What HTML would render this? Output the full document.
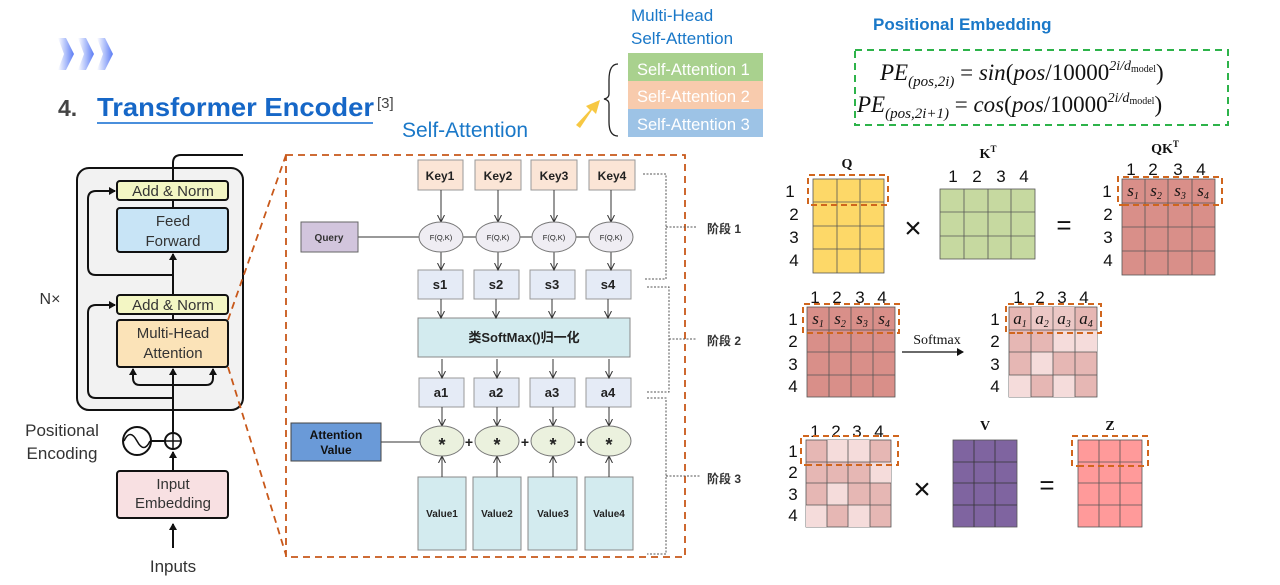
<!DOCTYPE html>
<html><head><meta charset="utf-8"><style>
body{margin:0;background:#fff;}
svg{display:block;font-family:"Liberation Sans","Noto Sans CJK SC",sans-serif;}
</style></head><body>
<svg width="1280" height="585" viewBox="0 0 1280 585" xmlns="http://www.w3.org/2000/svg">
<defs>
<marker id="ah" markerWidth="8" markerHeight="8" refX="6" refY="4" orient="auto" markerUnits="userSpaceOnUse"><path d="M0,0 L7,4 L0,8 z" fill="#111"/></marker>
<marker id="ao" markerWidth="8" markerHeight="8" refX="7" refY="4" orient="auto" markerUnits="userSpaceOnUse"><path d="M0,0.5 L7,4 L0,7.5" fill="none" stroke="#333" stroke-width="1"/></marker>
<linearGradient id="chev" x1="0" x2="1"><stop offset="0" stop-color="#fff"/><stop offset="1" stop-color="#5b7cf5"/></linearGradient>
</defs>

<!-- chevrons -->
<path d="M58,38 L66,38 L74,54 L66,70 L58,70 L64,54z" fill="url(#chev)"/>
<path d="M78,38 L86,38 L94,54 L86,70 L78,70 L84,54z" fill="url(#chev)"/>
<path d="M97,38 L105,38 L113,54 L105,70 L97,70 L103,54z" fill="url(#chev)"/>
<text x="58" y="116" font-size="23" font-weight="bold" fill="#444">4.</text>
<text x="97" y="116" font-size="26" font-weight="bold" fill="#1667c7" textLength="277" lengthAdjust="spacingAndGlyphs">Transformer Encoder</text>
<line x1="97" y1="123" x2="373" y2="123" stroke="#4a8fdc" stroke-width="2"/>
<text x="377" y="108" font-size="15" fill="#444">[3]</text>
<text x="402" y="137" font-size="21" fill="#1a78c8">Self-Attention</text>
<path d="M576,125 L590,110 L586,106 L600,100 L596,114 L592,110 L580,128z" fill="#f7c843"/>
<path d="M618,64 Q609,64 609,80 L609,94 Q609,98 604,99 Q609,100 609,104 L609,122 Q609,136 618,136" fill="none" stroke="#222" stroke-width="1.3"/>
<text x="631" y="21" font-size="17" fill="#1a78c8">Multi-Head</text>
<text x="631" y="44" font-size="17" fill="#1a78c8">Self-Attention</text>
<rect x="628" y="53" width="135" height="28" fill="#a9d18e"/>
<rect x="628" y="81" width="135" height="28" fill="#f8cbad"/>
<rect x="628" y="109" width="135" height="28" fill="#9dc3e6"/>
<g font-size="16.5" fill="#fff"><text x="637" y="75">Self-Attention 1</text><text x="637" y="102">Self-Attention 2</text><text x="637" y="130">Self-Attention 3</text></g>

<text x="873" y="30" font-size="17" font-weight="bold" fill="#1a78c8">Positional Embedding</text>
<rect x="855" y="50" width="373" height="75" fill="none" stroke="#2db34a" stroke-width="2" stroke-dasharray="7,5"/>
<g font-family="Liberation Serif,serif" font-size="23" fill="#111">
<text x="880" y="80"><tspan font-style="italic">PE</tspan><tspan font-size="15" dy="6" font-style="italic">(pos,2i)</tspan><tspan dy="-6"> = </tspan><tspan font-style="italic">sin</tspan>(<tspan font-style="italic">pos</tspan>/10000<tspan font-size="14" dy="-10" font-style="italic">2i/d</tspan><tspan font-size="10" dy="2">model</tspan><tspan dy="8">)</tspan></text>
<text x="857" y="112"><tspan font-style="italic">PE</tspan><tspan font-size="15" dy="6" font-style="italic">(pos,2i+1)</tspan><tspan dy="-6"> = </tspan><tspan font-style="italic">cos</tspan>(<tspan font-style="italic">pos</tspan>/10000<tspan font-size="14" dy="-10" font-style="italic">2i/d</tspan><tspan font-size="10" dy="2">model</tspan><tspan dy="8">)</tspan></text>
</g>

<!-- Left encoder -->
<rect x="77" y="168" width="166" height="242" rx="12" fill="#f2f2f2" stroke="#111" stroke-width="2"/>
<path d="M173,181 L173,163 Q173,155 181,155 L243,155" fill="none" stroke="#111" stroke-width="2"/>
<g stroke="#111" stroke-width="2" fill="none">
<line x1="173" y1="548" x2="173" y2="524" marker-end="url(#ah)"/>
<line x1="173" y1="471" x2="173" y2="452" marker-end="url(#ah)"/>
<line x1="173" y1="433" x2="173" y2="369" marker-end="url(#ah)"/>
<line x1="173" y1="314" x2="173" y2="320"/>
<line x1="173" y1="295" x2="173" y2="254" marker-end="url(#ah)"/>
<line x1="173" y1="200" x2="173" y2="208"/>
<path d="M173,398 L96,398 Q88,398 88,390 L88,313 Q88,305 96,305 L115,305" marker-end="url(#ah)"/>
<path d="M173,275 L96,275 Q88,275 88,267 L88,199 Q88,191 96,191 L115,191" marker-end="url(#ah)"/>
<path d="M173,385 L140,385 Q133,385 133,378 L133,369" marker-end="url(#ah)"/>
<path d="M173,385 L206,385 Q213,385 213,378 L213,369" marker-end="url(#ah)"/>
<line x1="151" y1="441" x2="165" y2="441"/>
</g>
<rect x="117" y="181" width="111" height="19" rx="3" fill="#f3f6c4" stroke="#111" stroke-width="2"/>
<rect x="117" y="208" width="111" height="44" rx="3" fill="#c8e4f6" stroke="#111" stroke-width="2"/>
<rect x="117" y="295" width="111" height="19" rx="3" fill="#f3f6c4" stroke="#111" stroke-width="2"/>
<rect x="117" y="320" width="111" height="47" rx="3" fill="#fbe3b8" stroke="#111" stroke-width="2"/>
<rect x="117" y="471" width="111" height="47" rx="3" fill="#f8e0e2" stroke="#111" stroke-width="2"/>
<g font-size="15" fill="#333" text-anchor="middle">
<text x="173" y="196">Add &amp; Norm</text>
<text x="173" y="226">Feed</text><text x="173" y="246">Forward</text>
<text x="173" y="310">Add &amp; Norm</text>
<text x="173" y="338">Multi-Head</text><text x="173" y="358">Attention</text>
<text x="173" y="489">Input</text><text x="173" y="508">Embedding</text>
<text x="173" y="572" font-size="17">Inputs</text>
<text x="62" y="436" font-size="17">Positional</text>
<text x="62" y="459" font-size="17">Encoding</text>
<text x="50" y="304" font-size="16">N×</text>
</g>
<circle cx="173" cy="441" r="8" fill="#fff" stroke="#111" stroke-width="2"/>
<path d="M165,441 H181 M173,433 V449" stroke="#111" stroke-width="1.5"/>
<circle cx="137" cy="441" r="14" fill="#fff" stroke="#111" stroke-width="2"/>
<path d="M124,441 Q130,428 137,441 Q144,454 150,441" fill="none" stroke="#111" stroke-width="1.5"/>
<g stroke="#c8581a" stroke-width="1.8" stroke-dasharray="7,5" fill="none">
<line x1="228" y1="320" x2="286" y2="155"/>
<line x1="228" y1="367" x2="286" y2="555"/>
<rect x="286" y="155" width="399" height="402"/>
</g>

<!-- center -->
<g stroke="#333" stroke-width="1" fill="none">
<line x1="358" y1="237" x2="611" y2="237"/>
<line x1="381" y1="442" x2="420" y2="442" marker-start="url(#ao)"/>
</g>
<rect x="301" y="222" width="57" height="30" fill="#d2c5dd" stroke="#666"/>
<text x="329" y="241" font-size="10" font-weight="bold" text-anchor="middle" fill="#333">Query</text>
<rect x="291" y="423" width="90" height="38" fill="#6a9ad8" stroke="#444"/>
<text x="336" y="439" font-size="12" font-weight="bold" text-anchor="middle" fill="#111">Attention</text>
<text x="336" y="454" font-size="12" font-weight="bold" text-anchor="middle" fill="#111">Value</text>
<rect x="418" y="318" width="212" height="39" fill="#d3ebef" stroke="#888"/>
<text x="524" y="342" font-size="13" font-weight="bold" text-anchor="middle" fill="#222">类SoftMax()归一化</text>
<g font-weight="bold" text-anchor="middle" fill="#222">
<rect x="418" y="160" width="45" height="30" fill="#fbe5d6" stroke="#999"/><text x="440" y="180" font-size="12">Key1</text>
<rect x="475" y="160" width="46" height="30" fill="#fbe5d6" stroke="#999"/><text x="498" y="180" font-size="12">Key2</text>
<rect x="531" y="160" width="46" height="30" fill="#fbe5d6" stroke="#999"/><text x="554" y="180" font-size="12">Key3</text>
<rect x="589" y="160" width="46" height="30" fill="#fbe5d6" stroke="#999"/><text x="612" y="180" font-size="12">Key4</text>
<rect x="418" y="270" width="45" height="29" fill="#e5ebf6" stroke="#999"/><text x="440" y="289" font-size="13">s1</text>
<rect x="474" y="270" width="45" height="29" fill="#e5ebf6" stroke="#999"/><text x="496" y="289" font-size="13">s2</text>
<rect x="530" y="270" width="45" height="29" fill="#e5ebf6" stroke="#999"/><text x="552" y="289" font-size="13">s3</text>
<rect x="586" y="270" width="45" height="29" fill="#e5ebf6" stroke="#999"/><text x="608" y="289" font-size="13">s4</text>
<rect x="419" y="378" width="45" height="29" fill="#e5ebf6" stroke="#999"/><text x="441" y="397" font-size="13">a1</text>
<rect x="474" y="378" width="45" height="29" fill="#e5ebf6" stroke="#999"/><text x="496" y="397" font-size="13">a2</text>
<rect x="530" y="378" width="45" height="29" fill="#e5ebf6" stroke="#999"/><text x="552" y="397" font-size="13">a3</text>
<rect x="586" y="378" width="45" height="29" fill="#e5ebf6" stroke="#999"/><text x="608" y="397" font-size="13">a4</text>
<rect x="418" y="477" width="48" height="73" fill="#d3ebef" stroke="#888"/><text x="442" y="517" font-size="10">Value1</text>
<rect x="473" y="477" width="48" height="73" fill="#d3ebef" stroke="#888"/><text x="497" y="517" font-size="10">Value2</text>
<rect x="528" y="477" width="49" height="73" fill="#d3ebef" stroke="#888"/><text x="553" y="517" font-size="10">Value3</text>
<rect x="585" y="477" width="48" height="73" fill="#d3ebef" stroke="#888"/><text x="609" y="517" font-size="10">Value4</text>
</g>
<g stroke="#333" stroke-width="1" fill="none" marker-end="url(#ao)">
<line x1="441" y1="190" x2="441" y2="222"/><line x1="498" y1="190" x2="498" y2="222"/><line x1="554" y1="190" x2="554" y2="222"/><line x1="611" y1="190" x2="611" y2="222"/>
<line x1="441" y1="252" x2="441" y2="270"/><line x1="498" y1="252" x2="498" y2="270"/><line x1="554" y1="252" x2="554" y2="270"/><line x1="611" y1="252" x2="611" y2="270"/>
<line x1="441" y1="299" x2="441" y2="318"/><line x1="496" y1="299" x2="496" y2="318"/><line x1="552" y1="299" x2="552" y2="318"/><line x1="608" y1="299" x2="608" y2="318"/>
<line x1="442" y1="359" x2="442" y2="378"/><line x1="497" y1="359" x2="497" y2="378"/><line x1="553" y1="359" x2="553" y2="378"/><line x1="609" y1="359" x2="609" y2="378"/>
<line x1="442" y1="407" x2="442" y2="426"/><line x1="497" y1="407" x2="497" y2="426"/><line x1="553" y1="407" x2="553" y2="426"/><line x1="609" y1="407" x2="609" y2="426"/>
<line x1="442" y1="477" x2="442" y2="456"/><line x1="497" y1="477" x2="497" y2="456"/><line x1="553" y1="477" x2="553" y2="456"/><line x1="609" y1="477" x2="609" y2="456"/>
</g>
<g fill="#efedf3" stroke="#777">
<ellipse cx="441" cy="237" rx="22" ry="15"/><ellipse cx="498" cy="237" rx="22" ry="15"/><ellipse cx="554" cy="237" rx="22" ry="15"/><ellipse cx="611" cy="237" rx="22" ry="15"/>
</g>
<g font-size="7.5" text-anchor="middle" fill="#222"><text x="441" y="240">F(Q,K)</text><text x="498" y="240">F(Q,K)</text><text x="554" y="240">F(Q,K)</text><text x="611" y="240">F(Q,K)</text></g>
<g fill="#ebf1de" stroke="#777">
<ellipse cx="442" cy="441" rx="22" ry="15"/><ellipse cx="497" cy="441" rx="22" ry="15"/><ellipse cx="553" cy="441" rx="22" ry="15"/><ellipse cx="609" cy="441" rx="22" ry="15"/>
</g>
<g font-size="18" font-weight="bold" text-anchor="middle" fill="#222"><text x="442" y="451">*</text><text x="497" y="451">*</text><text x="553" y="451">*</text><text x="609" y="451">*</text>
<text x="469" y="447" font-size="14">+</text><text x="525" y="447" font-size="14">+</text><text x="581" y="447" font-size="14">+</text></g>
<g stroke="#555" stroke-width="1" stroke-dasharray="2,1.5" fill="none">
<path d="M643,174 H666 V279 H645"/><path d="M666,227 H697"/>
<path d="M647,287 H669 V392 H647"/><path d="M669,339 H697"/>
<path d="M647,398 H666 V554 H647"/><path d="M666,476 H700"/>
</g>
<g font-size="12" font-weight="bold" fill="#333"><text x="707" y="233">阶段 1</text><text x="707" y="345">阶段 2</text><text x="707" y="483">阶段 3</text></g>

<!-- right matrices -->
<g font-size="17" fill="#111" text-anchor="middle">
<text x="790" y="197">1</text><text x="794" y="220">2</text><text x="794" y="243">3</text><text x="794" y="266">4</text>
<text x="1107" y="197">1</text><text x="1108" y="220">2</text><text x="1108" y="243">3</text><text x="1108" y="266">4</text>
<text x="953" y="182">1</text><text x="977" y="182">2</text><text x="1001" y="182">3</text><text x="1024" y="182">4</text>
<text x="1131" y="175">1</text><text x="1153" y="175">2</text><text x="1178" y="175">3</text><text x="1201" y="175">4</text>
<text x="793" y="325">1</text><text x="793" y="347">2</text><text x="793" y="370">3</text><text x="793" y="392">4</text>
<text x="815" y="303">1</text><text x="837" y="303">2</text><text x="860" y="303">3</text><text x="882" y="303">4</text>
<text x="995" y="325">1</text><text x="995" y="347">2</text><text x="995" y="370">3</text><text x="995" y="392">4</text>
<text x="1018" y="303">1</text><text x="1040" y="303">2</text><text x="1062" y="303">3</text><text x="1084" y="303">4</text>
<text x="793" y="457">1</text><text x="793" y="478">2</text><text x="793" y="500">3</text><text x="793" y="521">4</text>
<text x="815" y="437">1</text><text x="836" y="437">2</text><text x="857" y="437">3</text><text x="879" y="437">4</text>
<text x="913" y="238" font-size="30">×</text><text x="1064" y="234" font-size="26">=</text>
<text x="922" y="499" font-size="30">×</text><text x="1047" y="494" font-size="26">=</text>
</g>
<g font-family="Liberation Serif,serif" font-weight="bold" font-size="14" text-anchor="middle" fill="#111">
<text x="847" y="168">Q</text><text x="988" y="158">K<tspan font-size="9" dy="-6">T</tspan></text>
<text x="1165" y="153">QK<tspan font-size="9" dy="-6">T</tspan></text>
<text x="985" y="430">V</text><text x="1110" y="430">Z</text>
<text x="937" y="344" font-weight="normal" font-size="14">Softmax</text>
</g>
<line x1="902" y1="352" x2="963" y2="352" stroke="#111" stroke-width="1.2" marker-end="url(#ah)"/>

<g stroke="#555" stroke-width="0.8">
<rect x="813" y="179" width="71" height="94" fill="#fdd868"/>
<path d="M837,179V273M860,179V273M813,202H884M813,226H884M813,249H884"/>
<rect x="940" y="189" width="95" height="70" fill="#c6d9a0"/>
<path d="M964,189V259M988,189V259M1011,189V259M940,212H1035M940,236H1035"/>
<rect x="1122" y="179" width="93" height="96" fill="#d98f89"/>
<path d="M1145,179V275M1168,179V275M1192,179V275M1122,203H1215M1122,227H1215M1122,251H1215"/>
<rect x="807" y="307" width="88" height="90" fill="#d98f89"/>
<path d="M829,307V397M851,307V397M873,307V397M807,330H895M807,352H895M807,375H895"/>
<rect x="1009" y="307" width="88" height="90" fill="#e6b7b4"/>
<rect x="1053" y="330" width="44" height="22" fill="#f5dcdb" stroke="none"/>
<rect x="1031" y="352" width="22" height="23" fill="#f5dcdb" stroke="none"/>
<rect x="1009" y="375" width="22" height="22" fill="#f5dcdb" stroke="none"/>
<rect x="1053" y="375" width="22" height="22" fill="#f5dcdb" stroke="none"/>
<rect x="1031" y="307" width="44" height="23" fill="#ecc8c6" stroke="none"/>
<path d="M1031,307V397M1053,307V397M1075,307V397M1009,330H1097M1009,352H1097M1009,375H1097"/>
<rect x="806" y="440" width="85" height="87" fill="#e6b7b4"/>
<rect x="827" y="440" width="43" height="22" fill="#f5dcdb" stroke="none"/>
<rect x="870" y="462" width="21" height="21" fill="#f5dcdb" stroke="none"/>
<rect x="827" y="483" width="21" height="22" fill="#f5dcdb" stroke="none"/>
<rect x="806" y="505" width="21" height="22" fill="#f5dcdb" stroke="none"/>
<rect x="848" y="505" width="22" height="22" fill="#f5dcdb" stroke="none"/>
<path d="M827,440V527M848,440V527M870,440V527M806,462H891M806,483H891M806,505H891"/>
<rect x="953" y="440" width="64" height="87" fill="#7f64a0"/>
<path d="M974,440V527M995,440V527M953,462H1017M953,483H1017M953,505H1017" stroke="#333"/>
<rect x="1078" y="440" width="64" height="87" fill="#ff9a9a"/>
<path d="M1099,440V527M1120,440V527M1078,462H1142M1078,483H1142M1078,505H1142"/>
</g>
<g font-family="Liberation Serif,serif" font-style="italic" font-size="17" fill="#111" text-anchor="middle">
<text x="1133" y="196">s<tspan font-size="10" dy="3">1</tspan></text><text x="1156" y="196">s<tspan font-size="10" dy="3">2</tspan></text><text x="1180" y="196">s<tspan font-size="10" dy="3">3</tspan></text><text x="1203" y="196">s<tspan font-size="10" dy="3">4</tspan></text>
<text x="818" y="324">s<tspan font-size="10" dy="3">1</tspan></text><text x="840" y="324">s<tspan font-size="10" dy="3">2</tspan></text><text x="862" y="324">s<tspan font-size="10" dy="3">3</tspan></text><text x="884" y="324">s<tspan font-size="10" dy="3">4</tspan></text>
<text x="1020" y="324">a<tspan font-size="10" dy="3">1</tspan></text><text x="1042" y="324">a<tspan font-size="10" dy="3">2</tspan></text><text x="1064" y="324">a<tspan font-size="10" dy="3">3</tspan></text><text x="1086" y="324">a<tspan font-size="10" dy="3">4</tspan></text>
</g>
<g stroke="#d0661e" stroke-width="2" stroke-dasharray="6,4" fill="none">
<path d="M817,205 H808 V175 H888 V205 H817"/>
<path d="M1125,205 H1118 V177 H1222 V205 H1125"/>
<path d="M813,333 H803 V304 H899 V333 H813"/>
<path d="M1015,333 H1006 V304 H1101 V333 H1015"/>
<path d="M810,465 H801 V436 H898 V465 H810"/>
<path d="M1082,466 H1072 V436 H1148 V466 H1082"/>
</g>
</svg>
</body></html>
